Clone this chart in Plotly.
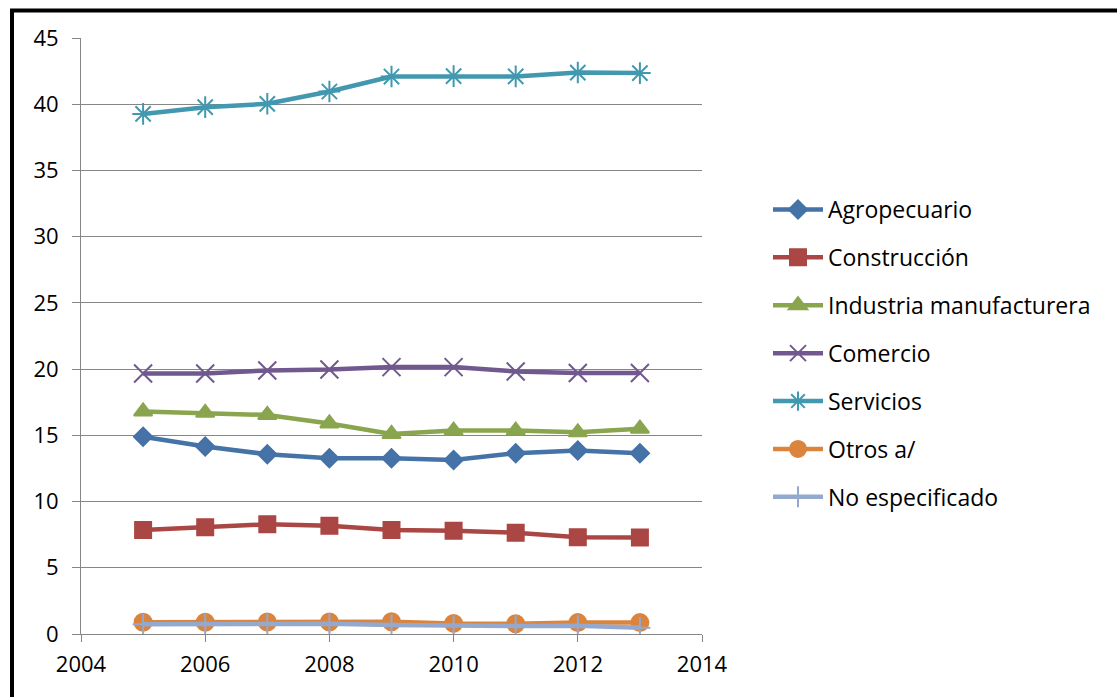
import plotly.graph_objects as go

# Years of the survey
years = [2005, 2006, 2007, 2008, 2009, 2010, 2011, 2012, 2013]

# Share of employed population by economic sector (%)
agropecuario = [14.9, 14.15, 13.57, 13.27, 13.27, 13.14, 13.65, 13.85, 13.65]
construccion = [7.85, 8.06, 8.28, 8.18, 7.85, 7.8, 7.65, 7.3, 7.28]
industria = [16.8, 16.7, 16.54, 15.9, 15.1, 15.36, 15.36, 15.23, 15.5]
comercio = [19.67, 19.67, 19.9, 19.97, 20.15, 20.15, 19.82, 19.7, 19.7]
servicios = [39.27, 39.78, 40.03, 40.96, 42.09, 42.12, 42.1, 42.39, 42.35]
otros = [0.88, 0.88, 0.9, 0.9, 0.93, 0.8, 0.78, 0.86, 0.86]
no_especificado = [0.73, 0.73, 0.75, 0.78, 0.68, 0.6, 0.6, 0.63, 0.48]

series_names = ["Agropecuario", "Construcción", "Industria manufacturera",
                "Comercio", "Servicios", "Otros a/", "No especificado"]
series_values = [agropecuario, construccion, industria, comercio,
                 servicios, otros, no_especificado]

y_tick_values = [0, 5, 10, 15, 20, 25, 30, 35, 40, 45]
x_tick_values = [2004, 2006, 2008, 2010, 2012, 2014]

colors = ["#4572A7", "#AA4643", "#89A54E", "#71588F", "#4198AF", "#DB843D", "#93A9CF"]
symbols = ["diamond", "square", "triangle-up", "x-thin-open", "asterisk-open",
           "circle", "cross-thin-open"]
sizes = [14, 16, 16, 18, 18, 17, 15]

FONT = "Open Sans"

fig = go.Figure()
for name, vals, col, sym, sz in zip(series_names, series_values, colors, symbols, sizes):
    fig.add_trace(go.Scatter(
        x=years, y=vals, name=name, mode="lines+markers",
        legendgroup=name,
        line=dict(color=col, width=4.5),
        marker=dict(symbol=sym, size=sz, color=col,
                    line=dict(color=col, width=2)),
    ))

W, H = 1117, 697
L, R, T, B = 81, 415, 38, 63
pw, ph = W - L - R, H - T - B

def px_x(p):
    return (p - L) / pw

def px_y(p):
    return (H - B - p) / ph

fig.update_layout(
    width=W, height=H,
    margin=dict(l=L, r=R, t=T, b=B, autoexpand=False),
    paper_bgcolor="white", plot_bgcolor="white",
    font=dict(family=FONT, size=22, color="black"),
    showlegend=True,
    legend=dict(
        x=px_x(768), y=px_y(188), xanchor="left", yanchor="top",
        font=dict(family=FONT, size=23, color="black"),
        tracegroupgap=15, itemwidth=50,
        bgcolor="rgba(0,0,0,0)",
    ),
    xaxis=dict(
        range=[2004, 2014], tickvals=x_tick_values,
        showgrid=False, zeroline=False,
        showline=True, linecolor="#868686", linewidth=1,
        ticks="outside", ticklen=7, tickcolor="#868686",
        ticklabelstandoff=4,
    ),
    yaxis=dict(
        range=[0, 45], tickvals=y_tick_values,
        showgrid=True, gridcolor="#868686", gridwidth=1,
        zeroline=False,
        showline=True, linecolor="#868686", linewidth=1,
        ticks="outside", ticklen=8, tickcolor="#868686",
        ticklabelstandoff=9,
    ),
    shapes=[dict(
        type="rect", xref="paper", yref="paper",
        x0=px_x(12), x1=px_x(W + 20), y0=px_y(H + 20), y1=px_y(10.5),
        line=dict(color="black", width=4), fillcolor="rgba(0,0,0,0)",
        layer="above",
    )],
)

fig.write_html("out.html")
